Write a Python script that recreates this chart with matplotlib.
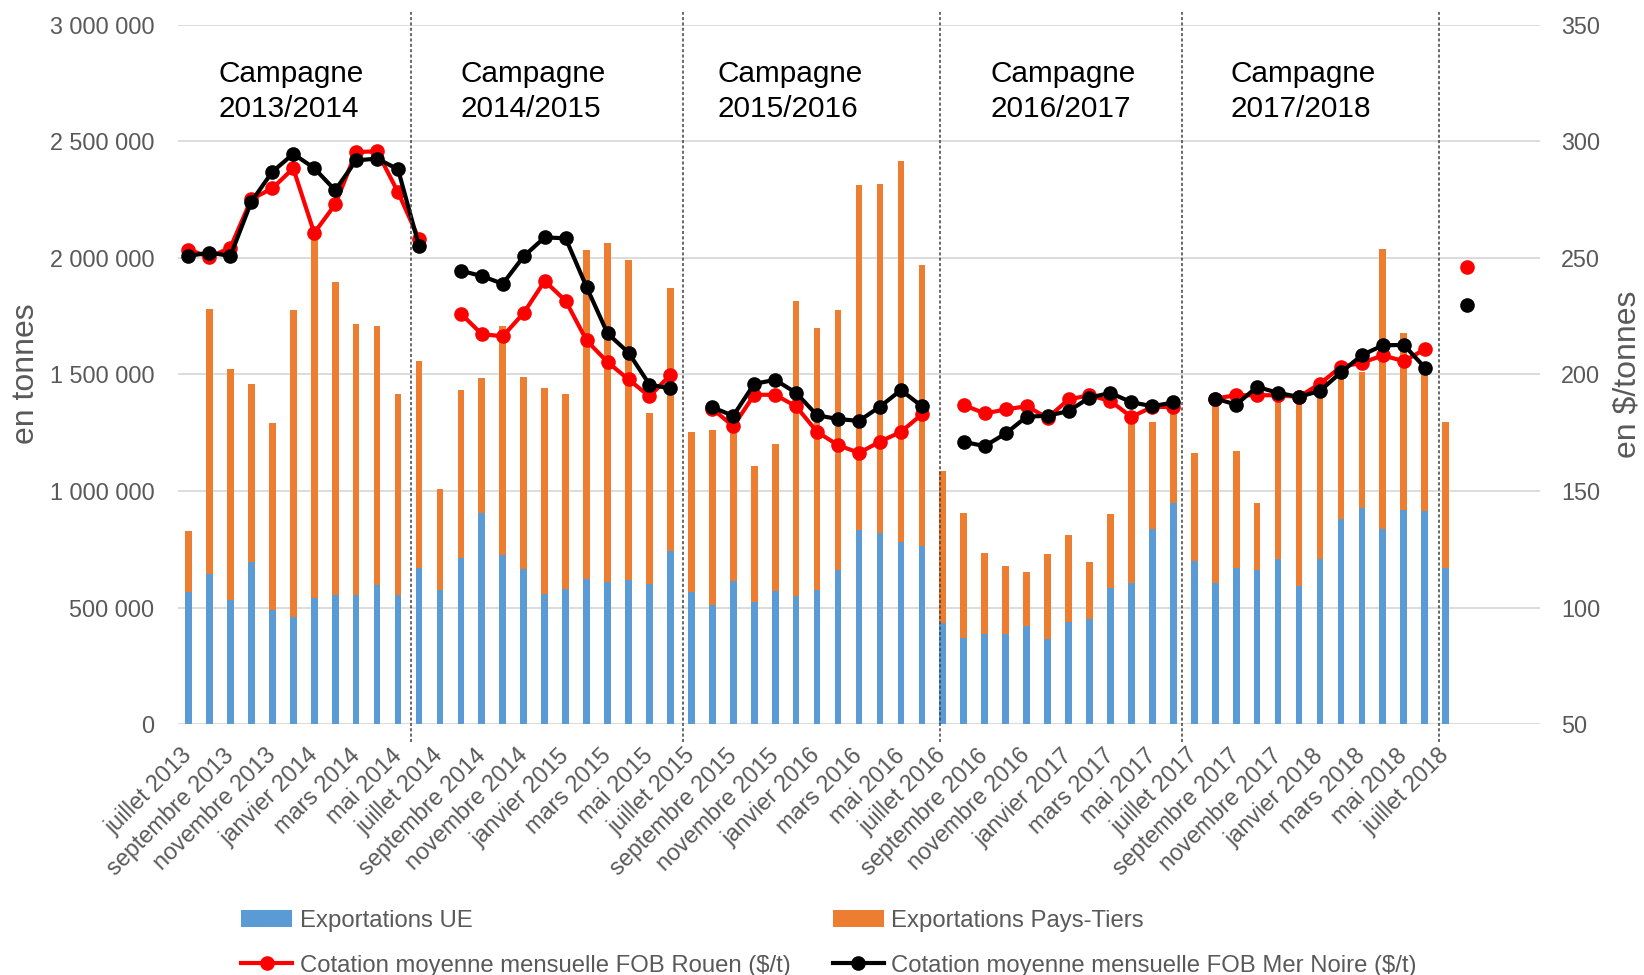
import numpy as np
import matplotlib
matplotlib.use('Agg')
import matplotlib.pyplot as plt
from matplotlib.ticker import FuncFormatter

plt.rcParams['font.family'] = ['Liberation Sans', 'DejaVu Sans']

# Exportations mensuelles (tonnes), juillet 2013 -> juillet 2018
ue = [569, 646, 531, 695, 490, 459, 541, 556, 554, 597, 554, 672,
      574, 712, 904, 724, 667, 558, 580, 621, 612, 619, 601, 743,
      568, 510, 613, 526, 573, 549, 576, 660, 835, 822, 780, 766,
      433, 369, 387, 387, 421, 366, 440, 450, 583, 607, 838, 950,
      700, 607, 671, 663, 710, 594, 707, 881, 929, 836, 921, 915,
      672]
total = [831, 1779, 1523, 1461, 1293, 1777, 2090, 1897, 1718, 1708, 1415, 1556,
         1009, 1435, 1487, 1708, 1488, 1442, 1416, 2035, 2065, 1990, 1334, 1872,
         1253, 1260, 1280, 1109, 1200, 1816, 1699, 1777, 2312, 2317, 2416, 1970,
         1086, 907, 733, 679, 654, 729, 810, 694, 900, 1300, 1297, 1360,
         1163, 1390, 1174, 951, 1400, 1390, 1430, 1500, 1511, 2039, 1678, 1510,
         1295]
ue = np.array(ue) * 1000
pays_tiers = np.array(total) * 1000 - ue

# Cotations ($/t), juillet 2013 -> aout 2018 (nan = pas de point)
nan = np.nan
rouen = [253.6, 250.3, 254.4, 275.2, 279.8, 288.4, 260.7, 272.9, 295.4, 295.7, 278.2, 258.1,
         nan, 226.1, 217.3, 216.4, 226.4, 240.1, 231.6, 214.6, 205.3, 197.9, 190.6, 199.9,
         nan, 185.3, 177.8, 191.3, 191.3, 186.3, 175.4, 169.7, 166.4, 171.2, 175.4, 182.9,
         nan, 186.9, 183.3, 185.0, 186.4, 181.4, 189.3, 191.1, 188.6, 181.8, 186.1, 186.1,
         nan, 189.7, 191.1, 191.1, 191.1, 190.4, 196.1, 203.3, 205.0, 208.2, 205.7, 210.8,
         nan, 246.3]
mer_noire = [250.8, 252.3, 250.8, 274.1, 286.9, 294.6, 288.5, 279.0, 291.8, 292.6, 288.0, 255.2,
             nan, 244.5, 242.2, 238.9, 250.7, 258.8, 258.4, 237.5, 217.6, 209.4, 195.7, 194.0,
             nan, 185.9, 182.3, 196.0, 197.7, 192.1, 182.5, 180.9, 180.1, 186.2, 193.3, 186.4,
             nan, 171.1, 169.3, 174.7, 181.9, 182.3, 184.3, 190.1, 192.1, 188.1, 186.4, 188.0,
             nan, 189.7, 187.1, 194.7, 192.1, 190.4, 193.0, 200.9, 208.3, 212.5, 212.7, 203.0,
             nan, 229.8]

# etiquettes (un mois sur deux)
etiquettes = ['juillet 2013', 'septembre 2013', 'novembre 2013', 'janvier 2014', 'mars 2014', 'mai 2014',
              'juillet 2014', 'septembre 2014', 'novembre 2014', 'janvier 2015', 'mars 2015', 'mai 2015',
              'juillet 2015', 'septembre 2015', 'novembre 2015', 'janvier 2016', 'mars 2016', 'mai 2016',
              'juillet 2016', 'septembre 2016', 'novembre 2016', 'janvier 2017', 'mars 2017', 'mai 2017',
              'juillet 2017', 'septembre 2017', 'novembre 2017', 'janvier 2018', 'mars 2018', 'mai 2018',
              'juillet 2018']

campagnes = ['Campagne\n2013/2014', 'Campagne\n2014/2015', 'Campagne\n2015/2016',
             'Campagne\n2016/2017', 'Campagne\n2017/2018']
campagne_x = [218, 460, 717, 990, 1231]  # px
separations = [10.63, 23.6, 35.88, 47.42, 59.68]

gris = '#595959'
fs = 16.8

fig = plt.figure(figsize=(16.44, 9.75), dpi=100)
ax = fig.add_axes([0.10827, 0.25713, 0.82847, 0.71754])

x = np.arange(len(ue))
b1 = ax.bar(x, ue, width=0.32, color='#5B9BD5', label='Exportations UE', zorder=2)
b2 = ax.bar(x, pays_tiers, width=0.32, bottom=ue, color='#ED7D31',
            label='Exportations Pays-Tiers', zorder=2)

ax.set_xlim(-0.5, 64.5)
ax.set_ylim(0, 3000000)
ax.set_yticks(np.arange(0, 3000001, 500000))
ax.yaxis.set_major_formatter(FuncFormatter(lambda v, p: '{:,.0f}'.format(v).replace(',', ' ')))
ax.grid(axis='y', color='#D9D9D9', linewidth=1.3, zorder=0)
ax.set_axisbelow(True)
ax.set_xticks(np.arange(0, 61, 2))
ax.set_xticklabels(etiquettes, rotation=45, ha='right', va='center', rotation_mode='anchor')
ax.tick_params(axis='x', length=0, pad=20, labelsize=fs, labelcolor=gris)
ax.tick_params(axis='y', length=0, pad=17, labelsize=fs, labelcolor=gris)
for s in ax.spines.values():
    s.set_visible(False)

ax2 = ax.twinx()
xl = np.arange(len(rouen))
l1, = ax2.plot(xl, rouen, color='#FF0000', lw=3, marker='o', ms=9.5,
               label='Cotation moyenne mensuelle FOB Rouen (\\$/t)', zorder=3)
l2, = ax2.plot(xl, mer_noire, color='black', lw=3, marker='o', ms=9.5,
               label='Cotation moyenne mensuelle FOB Mer Noire (\\$/t)', zorder=4)
ax2.set_ylim(50, 350)
ax2.set_yticks(np.arange(50, 351, 50))
ax2.tick_params(axis='y', length=0, pad=15, labelsize=fs, labelcolor=gris)
for s in ax2.spines.values():
    s.set_visible(False)

# separations des campagnes
for sx in separations:
    ax2.plot([sx, sx], [-0.025, 1.018], transform=ax2.get_xaxis_transform(),
             color='#404040', lw=1.1, ls=(0, (2, 1.5)), clip_on=False, zorder=5)

for t, px in zip(campagnes, campagne_x):
    fig.text(px / 1644, 1 - 60 / 975, t, fontsize=21.4, color='black',
             ha='left', va='top', linespacing=1.32)

fig.text(26 / 1644, 1 - 374 / 975, 'en tonnes', rotation=90, fontsize=23,
         color=gris, ha='center', va='center')
fig.text(1627 / 1644, 1 - 374 / 975, 'en \\$/tonnes', rotation=90, fontsize=23,
         color=gris, ha='center', va='center')

fig.legend(handles=[b1, l1, b2, l2], ncol=2, loc='upper left',
           bbox_to_anchor=(241 / 1644, 1 - 910 / 975), frameon=False,
           fontsize=17.2, labelcolor=gris, handlelength=2.15, handletextpad=0.3,
           columnspacing=1.78, labelspacing=0.95, borderpad=0, borderaxespad=0)

fig.savefig('out.png', dpi=100)
